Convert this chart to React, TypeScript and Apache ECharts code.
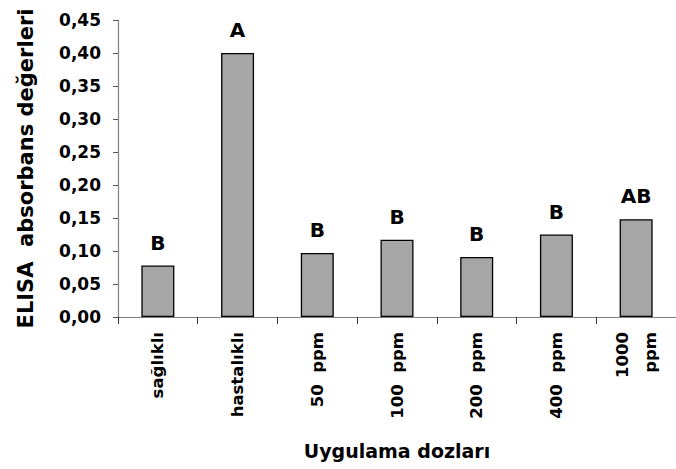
import React, { useEffect, useRef } from "react";
import * as echarts from "echarts";

const categories = ["sağlıklı", "hastalıklı", "50  ppm", "100  ppm", "200  ppm", "400  ppm", "1000\nppm"];
const values = [0.078, 0.4, 0.097, 0.117, 0.091, 0.125, 0.148];
const letters = ["B", "A", "B", "B", "B", "B", "AB"];
const yTicks = { min: 0, max: 0.45, interval: 0.05 };

const FONT = "DejaVu Sans";

export default function App() {
  const ref = useRef<HTMLDivElement>(null);
  useEffect(() => {
    document.body.style.margin = "0";
    const chart = echarts.init(ref.current!, null, { renderer: "svg" });
    chart.setOption({
      animation: false,
      backgroundColor: "#ffffff",
      grid: { left: 118, top: 20, width: 564, height: 297 },
      xAxis: {
        type: "category",
        data: categories,
        name: "Uygulama dozları",
        nameLocation: "middle",
        nameGap: 124,
        nameTextStyle: { fontFamily: FONT, fontWeight: "bold", fontSize: 19, color: "#000" },
        axisLine: { lineStyle: { color: "#808080", width: 1.2 } },
        axisTick: { show: true, alignWithLabel: false, length: 7, lineStyle: { color: "#333", width: 1 } },
        axisLabel: {
          rotate: 90,
          margin: 15,
          interval: 0,
          fontFamily: FONT,
          fontWeight: "bold",
          fontSize: 16.5,
          color: "#000",
          lineHeight: 28,
        },
      },
      yAxis: {
        type: "value",
        min: yTicks.min,
        max: yTicks.max,
        interval: yTicks.interval,
        name: "ELISA  absorbans değerleri",
        nameLocation: "middle",
        nameGap: 82,
        nameTextStyle: { fontFamily: FONT, fontWeight: "bold", fontSize: 21, color: "#000" },
        splitLine: { show: false },
        axisLine: { show: true, lineStyle: { color: "#808080", width: 1.2 } },
        axisTick: { show: true, length: 5, lineStyle: { color: "#555", width: 1 } },
        axisLabel: {
          margin: 17,
          fontFamily: FONT,
          fontWeight: "bold",
          fontSize: 17,
          color: "#000",
          formatter: (v: number) => v.toFixed(2).replace(".", ","),
        },
      },
      series: [
        {
          type: "bar",
          data: values,
          barWidth: 33,
          itemStyle: { color: "#a6a6a6", borderColor: "#000", borderWidth: 1.3 },
          label: {
            show: true,
            position: "top",
            distance: 13,
            fontFamily: FONT,
            fontWeight: "bold",
            fontSize: 20,
            color: "#000",
            formatter: (p: any) => letters[p.dataIndex],
          },
        },
      ],
    });
    return () => chart.dispose();
  }, []);
  return <div ref={ref} style={{ width: 676, height: 469 }} />;
}
